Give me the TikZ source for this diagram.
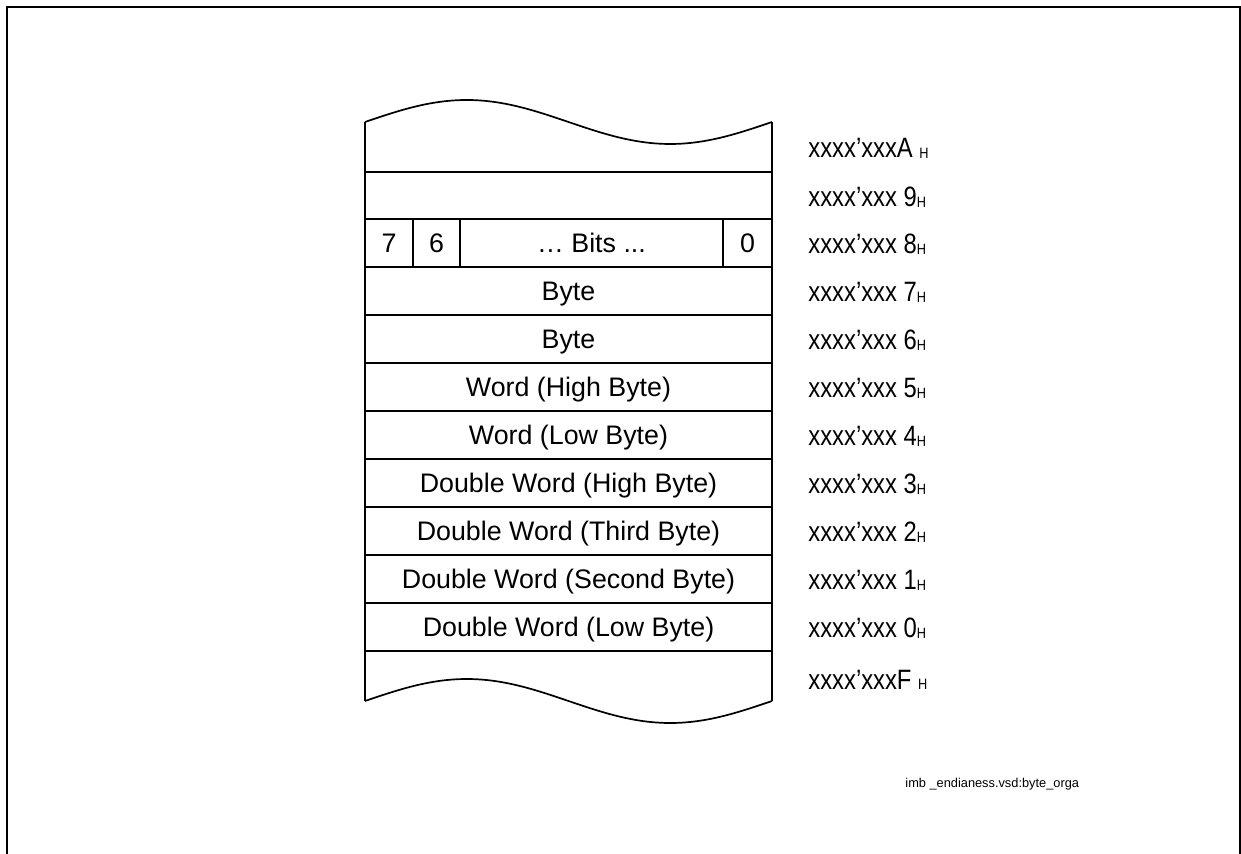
\documentclass[tikz,border=0pt]{standalone}
\usepackage{fontspec}
\usepackage{graphicx}
\setmainfont{Liberation Sans}
\newcommand\subH{\raisebox{-0.5pt}{\fontsize{7.5}{8}\selectfont H}}
\newcommand\addrtxt[1]{\scalebox{0.85}[1]{#1}}
\begin{document}
\begin{tikzpicture}[x=0.5pt,y=-0.5pt,
  frame/.style={line width=1.3pt},
  mem/.style={line width=0.85pt},
  celltxt/.style={anchor=base,inner sep=0pt,font=\fontsize{13.4}{15}\selectfont},
  addr/.style={anchor=base west,inner sep=0pt,font=\fontsize{14}{16}\selectfont},
  note/.style={anchor=base west,inner sep=0pt,font=\fontsize{6.4}{8}\selectfont}]
\useasboundingbox (0,0) rectangle (1241,854);
% outer frame (bottom edge cut off)
\draw[frame] (7,860) -- (7,7) -- (1240,7) -- (1240,860);
% memory column outline with wavy ends
\draw[mem] (365,122) sin (466.75,100) cos (568.5,122) sin (670.25,144) cos (772,122);
\draw[mem] (365,701) sin (466.75,679) cos (568.5,701) sin (670.25,723) cos (772,701);
\draw[mem] (365,122) -- (365,701);
\draw[mem] (772,122) -- (772,701);
\foreach \yy in {172,219,267,315,363,411,459,507,555,603,651}
  \draw[mem] (365,\yy) -- (772,\yy);
\foreach \xx in {413,460,723}
  \draw[mem] (\xx,219) -- (\xx,267);
% cell texts
\node[celltxt] (b7) at (389,252.5) {7};
\node[celltxt] (b6) at (436.5,252.5) {6};
\node[celltxt] (bits) at (591.5,252.5) {… Bits ...};
\node[celltxt] (b0) at (747.5,252.5) {0};
\node[celltxt] (c7) at (568.5,300.5) {Byte};
\node[celltxt] (c6) at (568.5,348.5) {Byte};
\node[celltxt] (c5) at (568.5,396.5) {Word (High Byte)};
\node[celltxt] (c4) at (568.5,444.5) {Word (Low Byte)};
\node[celltxt] (c3) at (568.5,492.5) {Double Word (High Byte)};
\node[celltxt] (c2) at (568.5,540.5) {Double Word (Third Byte)};
\node[celltxt] (c1) at (568.5,588.5) {Double Word (Second Byte)};
\node[celltxt] (c0) at (568.5,636.5) {Double Word (Low Byte)};
% address labels
\node[addr] (aA) at (808,158) {\addrtxt{xxxx’xxxA \subH}};
\node[addr] (a9) at (808,207) {\addrtxt{xxxx’xxx 9\subH}};
\node[addr] (a8) at (808,254) {\addrtxt{xxxx’xxx 8\subH}};
\node[addr] (a7) at (808,302) {\addrtxt{xxxx’xxx 7\subH}};
\node[addr] (a6) at (808,350) {\addrtxt{xxxx’xxx 6\subH}};
\node[addr] (a5) at (808,398) {\addrtxt{xxxx’xxx 5\subH}};
\node[addr] (a4) at (808,446) {\addrtxt{xxxx’xxx 4\subH}};
\node[addr] (a3) at (808,494) {\addrtxt{xxxx’xxx 3\subH}};
\node[addr] (a2) at (808,542) {\addrtxt{xxxx’xxx 2\subH}};
\node[addr] (a1) at (808,590) {\addrtxt{xxxx’xxx 1\subH}};
\node[addr] (a0) at (808,638) {\addrtxt{xxxx’xxx 0\subH}};
\node[addr] (aF) at (808,689) {\addrtxt{xxxx’xxxF \subH}};
% file note
\node[note] (fn) at (905,787) {imb \_endianess.vsd:byte\_orga};
\end{tikzpicture}
\end{document}
